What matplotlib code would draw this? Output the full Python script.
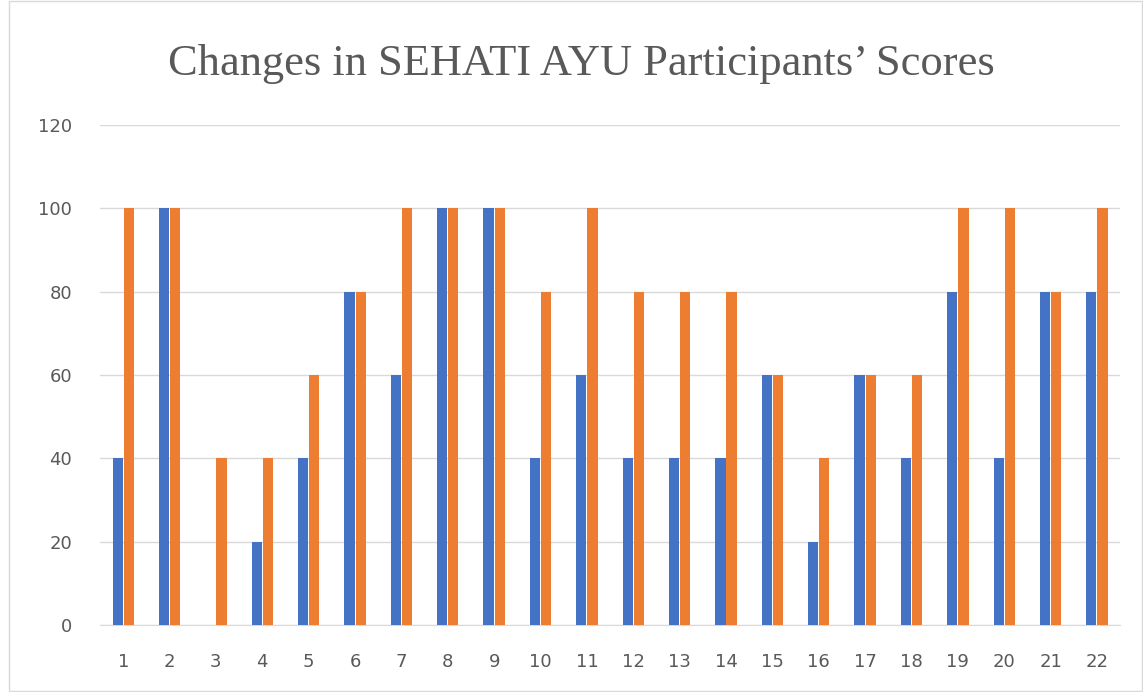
import numpy as np
import matplotlib.pyplot as plt

participants = [str(i) for i in range(1, 23)]
pre_scores = [40, 100, 0, 20, 40, 80, 60, 100, 100, 40, 60, 40, 40, 40, 60, 20, 60, 40, 80, 40, 80, 80]
post_scores = [100, 100, 40, 40, 60, 80, 100, 100, 100, 80, 100, 80, 80, 80, 60, 40, 60, 60, 100, 100, 80, 100]

fig = plt.figure(figsize=(11.43, 6.92), dpi=100)
ax = fig.add_axes([0.0875, 0.0968, 0.8925, 0.7226])

x = np.arange(1, len(participants) + 1)
w = 0.22
ax.bar(x - w / 2 - 0.01, pre_scores, width=w, color='#4472C4', zorder=3)
ax.bar(x + w / 2 + 0.01, post_scores, width=w, color='#ED7D31', zorder=3)

ax.set_xlim(0.5, 22.5)
ax.set_ylim(0, 120)
ax.set_yticks(range(0, 121, 20))
ax.set_xticks(x)
ax.set_xticklabels(participants)
ax.yaxis.grid(True, color='#D9D9D9', linewidth=1, zorder=0)
ax.tick_params(length=0, labelsize=13, labelcolor='#595959')
ax.tick_params(axis='x', pad=20)
ax.tick_params(axis='y', pad=20)
for s in ['top', 'right', 'left']:
    ax.spines[s].set_visible(False)
ax.spines['bottom'].set_color('#D9D9D9')

fig.text(0.509, 0.908, 'Changes in SEHATI AYU Participants\u2019 Scores',
         ha='center', va='center', fontsize=32, color='#595959',
         family='Liberation Serif')

fig.patches.append(plt.Rectangle((0.008, 0.001), 0.991, 0.998, transform=fig.transFigure,
                                 fill=False, edgecolor='#D9D9D9', linewidth=1))

fig.savefig('out.png', dpi=100)
